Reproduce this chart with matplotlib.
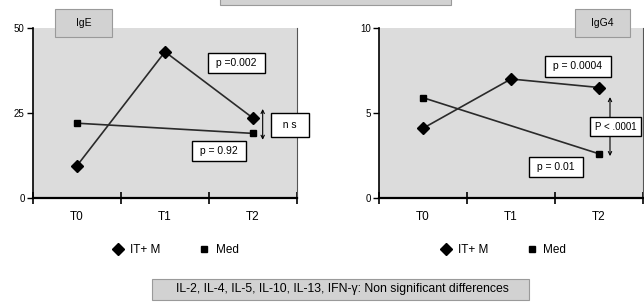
import numpy as np
import matplotlib
matplotlib.use("Agg")
import matplotlib.pyplot as plt
from matplotlib.patches import Rectangle
from matplotlib.lines import Line2D

plt.rcParams['font.family'] = ['Liberation Sans', 'DejaVu Sans']

times = ["T0", "T1", "T2"]
ige_itm = [9.5, 43.0, 23.5]
ige_med = [22.0, np.nan, 19.0]
igg4_itm = [4.1, 7.0, 6.5]
igg4_med = [5.9, np.nan, 2.6]

AX_BG = "#dcdcdc"
BOX_BG = "#d2d2d2"
LINE = "#2a2a2a"


def setup_axes(ax, ymax, yticks):
    ax.set_facecolor(AX_BG)
    ax.set_xlim(-0.5, 2.5)
    ax.set_ylim(0, ymax)
    ax.spines['top'].set_visible(False)
    ax.spines['right'].set_color("#555555")
    ax.spines['left'].set_linewidth(1.2)
    ax.spines['bottom'].set_linewidth(1.6)
    ax.set_xticks([-0.5, 0.5, 1.5, 2.5])
    ax.set_xticklabels([])
    ax.set_xticks([0, 1, 2], minor=True)
    ax.set_xticklabels(times, minor=True, fontsize=8.5)
    ax.tick_params(axis='x', which='major', direction='inout', length=9, width=1.2)
    ax.tick_params(axis='x', which='minor', length=0, pad=9)
    ax.set_yticks(yticks)
    ax.set_yticklabels([str(t) for t in yticks], fontsize=7)
    ax.tick_params(axis='y', length=4, width=1.0, pad=2)


def draw_series(ax, itm, med):
    x = np.arange(len(times))
    ax.plot(x, itm, color=LINE, lw=1.2, marker='D', ms=6.5, mfc='black', mec='black',
            zorder=3)
    med = np.asarray(med)
    m = ~np.isnan(med)
    ax.plot(x[m], med[m], color=LINE, lw=1.2, marker='s', ms=5, mfc='black', mec='black',
            zorder=3)


def add_legend(ax, xc):
    handles = [Line2D([], [], ls='none', marker='D', ms=6.5, color='black'),
               Line2D([], [], ls='none', marker='s', ms=5, color='black')]
    ax.legend(handles, ["IT+ M", "Med"], loc='center', bbox_to_anchor=(xc, -0.305),
              ncol=2, frameon=False, fontsize=8.5, handlelength=1.0,
              columnspacing=3.2, handletextpad=0.5)


def pbox(ax, x, y, s, fs=7.5, **kw):
    ax.text(x, y, s, fontsize=fs, ha=kw.pop('ha', 'center'), va='center', zorder=6,
            bbox=dict(boxstyle='square,pad=0.5', fc='white', ec='black', lw=1.0),
            clip_on=False, **kw)


def title_box(ax, x0, x1, s):
    ax.add_patch(Rectangle((x0, 0.947), x1 - x0, 0.165, transform=ax.transAxes,
                           fc=BOX_BG, ec="#9a9a9a", lw=0.8, clip_on=False, zorder=5))
    ax.text((x0 + x1) / 2, 1.03, s, transform=ax.transAxes, ha='center', va='center',
            fontsize=7.5, zorder=6)


fig = plt.figure(figsize=(6.44, 3.03), dpi=100)
ax1 = fig.add_axes([33 / 644, 1 - 198 / 303, 264 / 644, 170 / 303])
ax2 = fig.add_axes([379 / 644, 1 - 198 / 303, 264 / 644, 170 / 303])

# ---- IgE
setup_axes(ax1, 50, [0, 25, 50])
draw_series(ax1, ige_itm, ige_med)
title_box(ax1, 0.083, 0.30, "IgE")
pbox(ax1, 1.81, 39.7, " p =0.002 ")
pbox(ax1, 1.61, 13.8, " p = 0.92 ")
ax1.annotate("", xy=(2.11, 27.0), xytext=(2.11, 16.3),
             arrowprops=dict(arrowstyle='<->', lw=0.8, color='black',
                             mutation_scale=6), annotation_clip=False)
ax1.text(2.42, 21.5, "  n s  ", fontsize=7.5, ha='center', va='center', zorder=6,
         bbox=dict(boxstyle='square,pad=0.65', fc='white', ec='black', lw=1.0),
         clip_on=False)
add_legend(ax1, 0.54)

# ---- IgG4
setup_axes(ax2, 10, [0, 5, 10])
draw_series(ax2, igg4_itm, igg4_med)
title_box(ax2, 0.742, 0.951, "IgG4")
pbox(ax2, 1.76, 7.74, " p = 0.0004 ")
pbox(ax2, 1.51, 1.82, " p = 0.01 ")
ax2.annotate("", xy=(2.125, 6.1), xytext=(2.125, 2.3),
             arrowprops=dict(arrowstyle='<->', lw=0.8, color='black',
                             mutation_scale=6), annotation_clip=False)
pbox(ax2, 1.95, 4.2, "P < .0001", fs=7, ha='left')
add_legend(ax2, 0.47)

# header box (cut off at top) and footer note
fig.patches.append(Rectangle((220 / 644, 1 - 5 / 303), 231 / 644, 0.05,
                             transform=fig.transFigure, fc=BOX_BG, ec="#9a9a9a", lw=0.8))
fig.patches.append(Rectangle((152 / 644, 1 - 300 / 303), 377 / 644, 21 / 303,
                             transform=fig.transFigure, fc=BOX_BG, ec="#9a9a9a", lw=0.8))
fig.text(342 / 644, 1 - 289 / 303,
         "IL-2, IL-4, IL-5, IL-10, IL-13, IFN-\u03b3: Non significant differences",
         ha='center', va='center', fontsize=8.8)

fig.savefig("out.png", dpi=100)
